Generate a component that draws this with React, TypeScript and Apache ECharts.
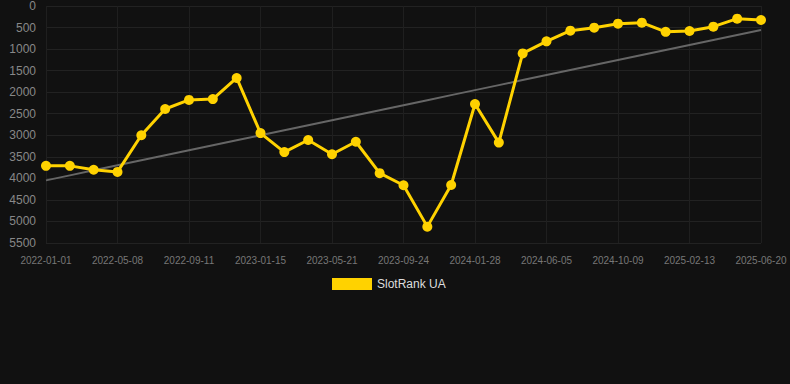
import React, { useEffect, useRef } from "react";
import * as echarts from "echarts";

const dates = [
  "2022-01-01", "2022-02-12", "2022-03-26", "2022-05-08", "2022-06-19", "2022-07-31",
  "2022-09-11", "2022-10-23", "2022-12-04", "2023-01-15", "2023-02-26", "2023-04-09",
  "2023-05-21", "2023-07-02", "2023-08-13", "2023-09-24", "2023-11-05", "2023-12-17",
  "2024-01-28", "2024-03-10", "2024-04-22", "2024-06-05", "2024-07-17", "2024-08-28",
  "2024-10-09", "2024-11-20", "2025-01-01", "2025-02-13", "2025-03-27", "2025-05-08",
  "2025-06-20",
];

const rankValues = [
  3710, 3710, 3800, 3850, 3000, 2390, 2180, 2160, 1670, 2950, 3390, 3110,
  3440, 3150, 3880, 4160, 5120, 4155, 2275, 3170, 1100, 820, 573, 503,
  410, 387, 600, 580, 480, 294, 325,
];

const seriesName = "SlotRank UA";

function regression(vals: number[]): number[] {
  const n = vals.length;
  let sx = 0, sy = 0, sxx = 0, sxy = 0;
  vals.forEach((v, i) => { sx += i; sy += v; sxx += i * i; sxy += i * v; });
  const b = (n * sxy - sx * sy) / (n * sxx - sx * sx);
  const a = (sy - b * sx) / n;
  return vals.map((_, i) => a + b * i);
}

const font = "Arial, 'Liberation Sans', sans-serif";

export default function App() {
  const ref = useRef<HTMLDivElement>(null);
  useEffect(() => {
    if (!ref.current) return;
    document.body.style.margin = "0";
    document.body.style.background = "#111111";
    const chart = echarts.init(ref.current, undefined, { renderer: "svg" });
    const trend = regression(rankValues);
    chart.setOption({
      animation: false,
      backgroundColor: "#111111",
      grid: { left: 46, right: 29, top: 6, bottom: 141 },
      legend: {
        data: [{ name: seriesName, icon: "rect" }],
        top: 278,
        left: 332,
        padding: 0,
        itemWidth: 40,
        itemHeight: 12,
        itemGap: 6,
        textStyle: { color: "#dddddd", fontSize: 12, fontFamily: font },
      },
      xAxis: {
        type: "category",
        data: dates,
        boundaryGap: false,
        axisLine: { show: false },
        axisTick: { show: false },
        axisLabel: { interval: 2, color: "#777777", fontSize: 10, margin: 12, fontFamily: font },
        splitLine: { show: true, interval: 2, lineStyle: { color: "#1f1f1f", width: 1 } },
      },
      yAxis: {
        type: "value",
        inverse: true,
        min: 0,
        max: 5500,
        interval: 500,
        axisLine: { show: false },
        axisTick: { show: false },
        axisLabel: {
          color: "#888888",
          fontSize: 12,
          margin: 10,
          fontFamily: font,
          formatter: (v: number) => String(v),
        },
        splitLine: { show: true, lineStyle: { color: "#222222", width: 1 } },
      },
      series: [
        {
          name: seriesName,
          type: "line",
          data: rankValues,
          symbol: "circle",
          symbolSize: 10,
          itemStyle: { color: "#FFD200" },
          lineStyle: { color: "#FFD200", width: 3 },
          z: 3,
        },
        {
          name: "trend",
          type: "line",
          data: trend,
          symbol: "none",
          lineStyle: { color: "#666666", width: 2 },
          itemStyle: { color: "#666666" },
          z: 2,
        },
      ],
    });
    return () => chart.dispose();
  }, []);
  return <div ref={ref} style={{ position: "absolute", left: 0, top: 0, width: 790, height: 384 }} />;
}
